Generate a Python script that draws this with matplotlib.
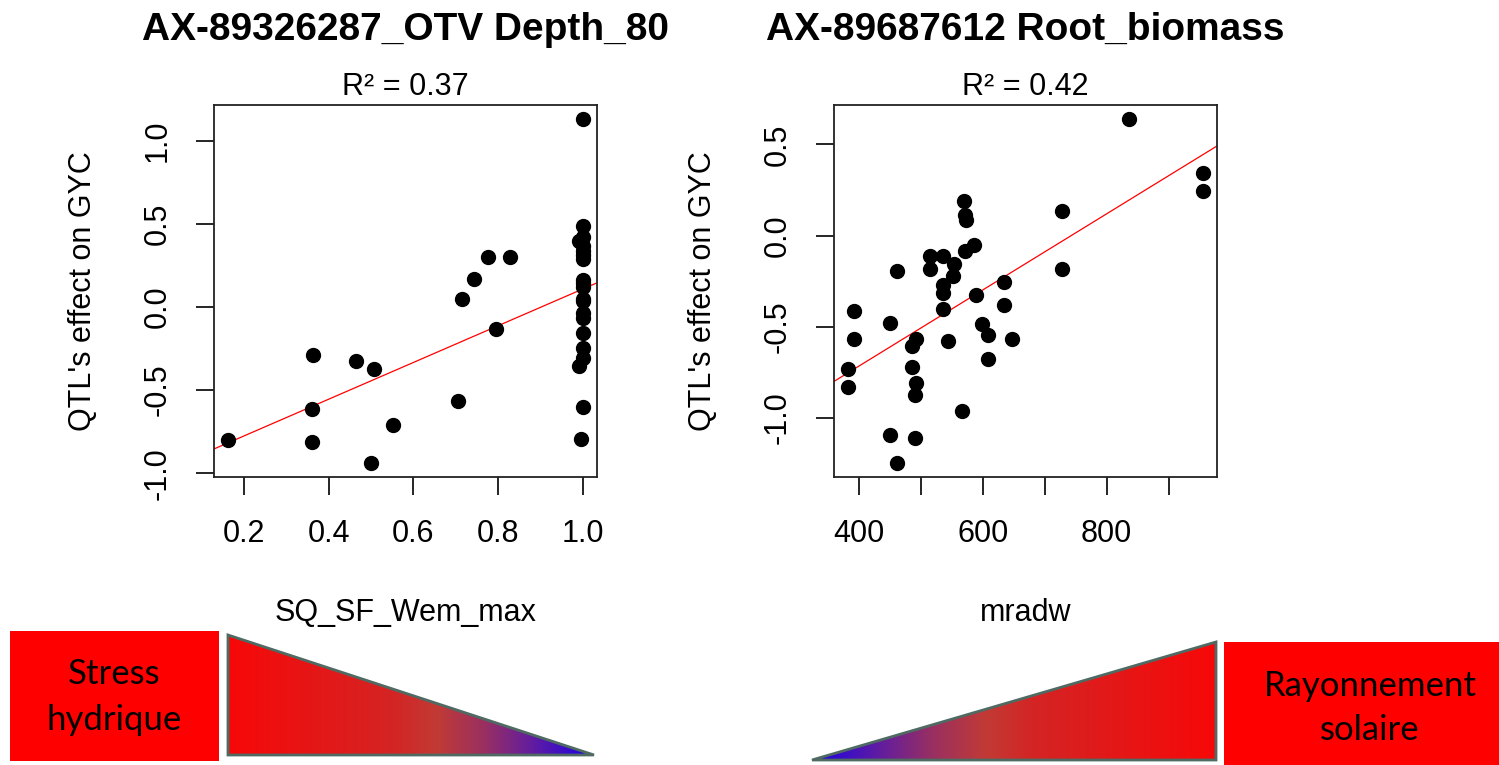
import numpy as np
import matplotlib
matplotlib.use("Agg")
from matplotlib import pyplot as plt
from matplotlib.colors import LinearSegmentedColormap
from matplotlib.patches import Polygon, Rectangle

plt.rcParams["font.family"] = ["Liberation Sans", "DejaVu Sans"]

# left panel: SQ_SF_Wem_max vs QTL effect
left_title = "AX-89326287_OTV Depth_80"
left_r2 = "R\u00b2 = 0.37"
left_xlabel = "SQ_SF_Wem_max"
left_x = [0.163, 0.364, 0.361, 0.361, 0.464, 0.506, 0.501, 0.553, 0.705, 0.716,
          0.744, 0.776, 0.828, 0.794,
          1.0, 1.0, 1.0, 0.99, 1.0, 1.0, 1.0, 1.0, 1.0, 1.0, 1.0,
          1.0, 1.0, 1.0, 1.0, 1.0, 1.0, 1.0, 0.99, 1.0, 0.995]
left_y = [-0.80, -0.29, -0.615, -0.81, -0.325, -0.37, -0.94, -0.71, -0.566, 0.048,
          0.17, 0.303, 0.303, -0.133,
          1.134, 0.486, 0.425, 0.40, 0.365, 0.335, 0.315, 0.29, 0.164, 0.145, 0.124,
          0.05, 0.034, -0.036, -0.066, -0.157, -0.247, -0.307, -0.352, -0.599, -0.795]
left_xticks = [0.2, 0.4, 0.6, 0.8, 1.0]
left_xticklabels = ["0.2", "0.4", "0.6", "0.8", "1.0"]
left_yticks = [-1.0, -0.5, 0.0, 0.5, 1.0]
left_yticklabels = ["-1.0", "-0.5", "0.0", "0.5", "1.0"]

# right panel: mradw vs QTL effect
right_title = "AX-89687612 Root_biomass"
right_r2 = "R\u00b2 = 0.42"
right_xlabel = "mradw"
right_x = [835.5, 955.3, 955.3, 728.5, 728.5, 569.4, 572, 573.7, 586.6, 572,
           514.5, 535, 554.3, 514.5, 552, 535, 535, 460.8, 634.4, 589.2,
           535, 634.4, 392.4, 450.5, 599.5, 609.2, 392.4, 493, 486, 544,
           647.3, 609.2, 382.7, 382.7, 486, 493, 489.8, 566.6, 450.5, 489.8,
           460.8]
right_y = [0.641, 0.343, 0.246, 0.136, -0.185, 0.192, 0.114, 0.086, -0.053, -0.084,
           -0.115, -0.115, -0.159, -0.185, -0.22, -0.271, -0.313, -0.196, -0.253, -0.328,
           -0.403, -0.383, -0.415, -0.481, -0.485, -0.546, -0.569, -0.566, -0.604, -0.579,
           -0.569, -0.679, -0.732, -0.833, -0.721, -0.811, -0.877, -0.965, -1.097, -1.110,
           -1.25]
right_xticks = [400, 500, 600, 700, 800, 900]
right_xticklabels = ["400", "", "600", "", "800", ""]
right_yticks = [-1.0, -0.5, 0.0, 0.5]
right_yticklabels = ["-1.0", "-0.5", "0.0", "0.5"]

ylabel = "QTL's effect on GYC"
left_box_text = "Stress\nhydrique"
right_box_text = "Rayonnement\nsolaire"

W, H = 1499, 765
fig = plt.figure(figsize=(W / 100, H / 100), dpi=100)

# overlay in pixel coordinates for the bottom decorations
deco = fig.add_axes([0, 0, 1, 1])
deco.set_axis_off()

wedge_cmap = LinearSegmentedColormap.from_list(
    "wedge",
    [(0.0, "#f80808"), (0.45, "#d42424"), (0.57, "#c23a35"),
     (0.7, "#9a3060"), (0.85, "#5a1aa8"), (1.0, "#1a00e8")])


def gradient_triangle(ax, verts, reverse=False):
    grad = np.linspace(0, 1, 256).reshape(1, -1)
    if reverse:
        grad = grad[:, ::-1]
    xs = [v[0] for v in verts]
    ys = [v[1] for v in verts]
    im = ax.imshow(grad, cmap=wedge_cmap, aspect="auto",
                   extent=(min(xs), max(xs), max(ys), min(ys)), zorder=1)
    tri = Polygon(verts, closed=True, facecolor="none",
                  edgecolor="#4f6a62", lw=2, zorder=2)
    ax.add_patch(tri)
    im.set_clip_path(tri)


box_font = dict(fontsize=25, family=["Lato", "DejaVu Sans"], linespacing=1.5)

deco.add_patch(Rectangle((10, 631), 209, 130, facecolor="#ff0000", edgecolor="none"))
deco.text(114, 697, left_box_text, ha="center", va="center", **box_font)
gradient_triangle(deco, [(228, 635), (228, 755), (594, 755)])

deco.add_patch(Rectangle((1224, 642), 275, 123, facecolor="#ff0000", edgecolor="none"))
deco.text(1370, 708, right_box_text, ha="center", va="center", **box_font)
gradient_triangle(deco, [(812, 760), (1216, 760), (1216, 642)], reverse=True)

deco.set_xlim(0, W)
deco.set_ylim(H, 0)


def draw_panel(rect, x, y, title, r2, xlabel, xticks, xticklabels, yticks, yticklabels):
    ax = fig.add_axes(rect)
    ax.plot(x, y, "o", color="black", markersize=10, zorder=3)
    ax.margins(0.04)
    # least squares line, drawn across the full plot width like abline()
    slope, icept = np.polyfit(x, y, 1)
    x0, x1 = ax.get_xlim()
    ax.plot([x0, x1], [icept + slope * x0, icept + slope * x1], color="red", lw=0.9, zorder=2)
    ax.set_xlim(x0, x1)

    ax.set_xticks(xticks)
    ax.set_xticklabels(xticklabels)
    ax.set_yticks(yticks)
    ax.set_yticklabels(yticklabels, rotation=90, va="center")
    ax.tick_params(direction="out", length=13, width=1.2, labelsize=22, pad=17)
    for s in ax.spines.values():
        s.set_linewidth(1.3)
        s.set_color("#222222")

    ax.set_xlabel(xlabel, fontsize=22, va="center")
    ax.set_ylabel(ylabel, fontsize=22, va="center")
    ax.xaxis.set_label_coords(0.5, -136 / 372)
    ax.yaxis.set_label_coords(-131 / 383, 0.5)

    ax.set_title(title, fontsize=28, fontweight="bold", y=1 + 75 / 372, va="center", pad=0)
    ax.text(0.5, 1 + 18 / 372, r2, transform=ax.transAxes, ha="center", va="center", fontsize=22)
    return ax


draw_panel([214 / W, 1 - 477 / H, 383 / W, 372 / H], left_x, left_y, left_title, left_r2,
           left_xlabel, left_xticks, left_xticklabels, left_yticks, left_yticklabels)
draw_panel([834 / W, 1 - 477 / H, 383 / W, 372 / H], right_x, right_y, right_title, right_r2,
           right_xlabel, right_xticks, right_xticklabels, right_yticks, right_yticklabels)

fig.savefig("out.png", dpi=100)
